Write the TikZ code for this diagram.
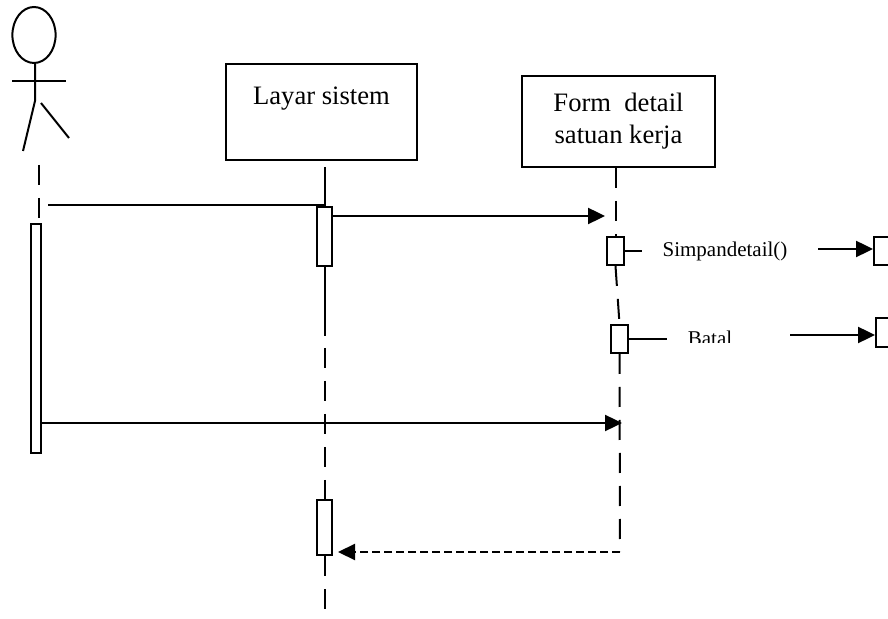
\documentclass[tikz,border=0pt]{standalone}
\usepackage{fontspec}
\setmainfont{Liberation Serif}
\usepackage{tikz}
\usetikzlibrary{positioning, arrows.meta, shapes}
\tikzstyle{objectBox} = [
    rectangle,
    draw,
    line width=1pt,
    align=center,
    font=\fontsize{13.3}{16}\selectfont
    ]
\tikzstyle{activeBox} = [
    rectangle,
    draw,
    fill=white,
    line width=1pt,
    inner sep=0pt,
    minimum width=7.5pt
    ]
\tikzstyle{lifeLine} = [
    line width=1pt,
    dash pattern=on 10pt off 6.5pt
    ]
\tikzstyle{callArrow} = [
    line width=1.2pt,
    -{Triangle[length=8.5pt, width=8pt]}
    ]
\tikzstyle{returnArrow} = [
    line width=1.1pt,
    dash pattern=on 4pt off 2pt,
    shorten >=2.5pt,
    -{Triangle[length=8.5pt, width=8pt]}
    ]
\tikzstyle{msgLabel} = [
    font=\fontsize{10.5}{12}\selectfont,
    inner sep=0pt
    ]
\begin{document}
\begin{tikzpicture}[x=0.5pt, y=-0.5pt]
      \clip (0,0) rectangle (888,619);
      % actor
      \draw[line width=1pt] (34,35) ellipse [x radius=10.8pt, y radius=14pt];
      \draw[line width=1pt] (35,63) -- (35,101) -- (23,151);
      \draw[line width=1pt] (12,81) -- (66,81);
      \draw[line width=1pt] (41,103) -- (69,138);
      % objects
      \node[objectBox, minimum width=95.5pt, minimum height=48pt] at (321.5,112) (layar) {Layar sistem\\ ~};
      \node[objectBox, minimum width=96.5pt, minimum height=45.5pt] at (618.5,121.5) (form) {Form~ detail\\satuan kerja};
      % activations
      \node[activeBox, minimum width=5pt, minimum height=114.5pt] at (36,338.5) (actorAct) {};
      \node[activeBox, minimum height=29.5pt] at (324.5,236.5) (layarAct1) {};
      \node[activeBox, minimum height=27.5pt] at (324.5,527.5) (layarAct2) {};
      \node[activeBox, minimum width=8.5pt, minimum height=14pt] at (615.5,251) (formAct1) {};
      \node[activeBox, minimum width=8.5pt, minimum height=14pt] at (619.5,339) (formAct2) {};
      \node[activeBox, minimum width=15pt, minimum height=14pt, anchor=west] at (873,251) (simpanBox) {};
      \node[activeBox, minimum width=15pt, minimum height=14.5pt, anchor=west] at (875,332.5) (batalBox) {};
      % lifelines
      \coordinate (actorTop) at (39,165);
      \draw[lifeLine] (actorTop) -- (actorTop |- actorAct.north);
      \draw[line width=1pt] (layarAct1 |- layar.south) ++(0,6) -- (layarAct1.north);
      \draw[line width=1pt] (layarAct1.south) -- ++(0,69);
      \coordinate (layarDash) at (324.5,348);
      \draw[lifeLine] (layarDash) -- (layarAct2.north);
      \coordinate (layarEnd) at (324.5,619);
      \draw[lifeLine] (layarAct2.south) -- (layarEnd);
      \draw[lifeLine] (formAct1 |- form.south) -- (formAct1.north);
      \draw[lifeLine] (formAct1.south) -- (formAct2.north);
      \coordinate (formEnd) at (620,552);
      \draw[lifeLine] (formAct2.south) -- (formEnd);
      % messages
      \coordinate (loginStart) at (48,205);
      \draw[line width=1pt] (loginStart) -- (loginStart -| layarAct1);
      \coordinate (openEnd) at (605,216);
      \draw[callArrow] (openEnd -| layarAct1.east) -- (openEnd);
      \draw[line width=1pt] (formAct1.east) -- ++(17,0);
      \node[msgLabel] at (725,251) (simpanLabel) {Simpandetail()};
      \coordinate (simpanStart) at (818,249);
      \draw[callArrow] (simpanStart) -- (simpanStart -| simpanBox.west);
      \draw[line width=1pt] (formAct2.east) -- ++(38,0);
      \begin{scope}
        \clip (680,320) rectangle (760,343);
        \node[msgLabel, anchor=base] at (710,346) (batalLabel) {Batal};
      \end{scope}
      \coordinate (batalStart) at (790,335);
      \draw[callArrow] (batalStart) -- (batalStart -| batalBox.west);
      \coordinate (detailEnd) at (622,423);
      \draw[callArrow] (detailEnd -| actorAct.east) -- (detailEnd);
      \draw[returnArrow] (formEnd) -- (formEnd -| layarAct2.east);
    \end{tikzpicture}
\end{document}
